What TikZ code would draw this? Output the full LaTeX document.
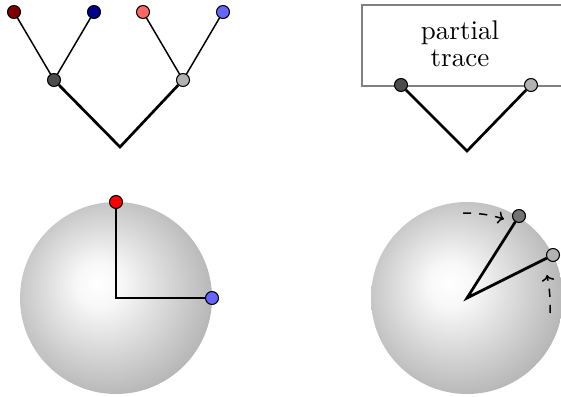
\documentclass[tikz,border=0pt]{standalone}
\usetikzlibrary{arrows.meta}

\pgfdeclareradialshading{blochshade}{\pgfpoint{-5bp}{4bp}}{%
  color(0bp)=(white); color(6bp)=(white!97!black); color(29bp)=(black!30); color(50bp)=(black!30)}

\begin{document}
\begin{tikzpicture}[
  x=0.37pt,y=-0.37pt,
  qubit/.style={circle,draw,line width=.4pt,inner sep=0pt,minimum size=4.8pt},
  wire/.style={line width=.55pt},
  bond/.style={line width=1pt},
  sphere/.style={shading=blochshade},
  drift/.style={line width=.55pt,dashed,-{To[length=2.2pt]}}
]
  \clip (0,0) rectangle (561,396);

  % two qubit pairs joined
  \node[qubit,fill=red!50!black] (a1) at (14,12) {};
  \node[qubit,fill=blue!55!black] (b1) at (94,12) {};
  \node[qubit,fill=red!60] (a2) at (143,12) {};
  \node[qubit,fill=blue!60] (b2) at (223,12) {};
  \node[qubit,fill=black!70] (m1) at (54,80) {};
  \node[qubit,fill=black!30] (m2) at (183,80) {};
  \coordinate (root) at (120,147);
  \draw[wire] (a1) -- (m1) -- (b1);
  \draw[wire] (a2) -- (m2) -- (b2);
  \draw[bond] (m1) -- (root) -- (m2);

  % traced out
  \draw[gray,line width=.75pt] (620,5) -| (362,86) -- (620,86);
  \node[align=center] (trace) at (460,44) {partial\\[-2.2pt]trace};
  \node[qubit,fill=black!70] (t1) at (401,85) {};
  \node[qubit,fill=black!30] (t2) at (531,85) {};
  \coordinate (troot) at (467,151);
  \draw[bond] (t1) -- (troot) -- (t2);

  % pure states
  \shade[sphere] (116,298) circle[radius=96];
  \coordinate (c1) at (116,298);
  \node[qubit,fill=red] (up) at (116,202) {};
  \node[qubit,fill=blue!60] (side) at (212,298) {};
  \draw[bond] (up) -- (c1) -- (side);

  % mixed states
  \shade[sphere] (467,298) circle[radius=96];
  \coordinate (c2) at (467,298);
  \node[qubit,fill=black!55] (p1) at (519,216) {};
  \node[qubit,fill=black!30] (p2) at (553,255) {};
  \draw[bond] (p1) -- (c2) -- (p2);
  \coordinate (s1) at (463,213);
  \coordinate (e1) at (504,219);
  \coordinate (s2) at (550,313);
  \coordinate (e2) at (547,275);
  \draw[drift] (s1) to[bend left=8] (e1);
  \draw[drift] (s2) to[bend right=6] (e2);
\end{tikzpicture}
\end{document}
